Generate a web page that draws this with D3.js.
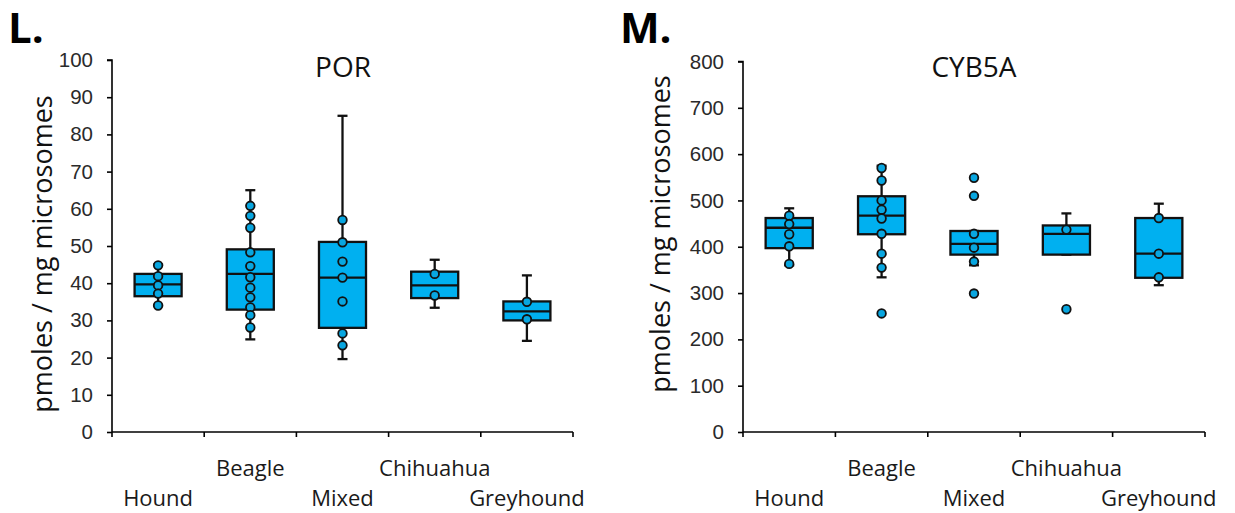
<!DOCTYPE html>
<html lang="en">
<head>
<meta charset="UTF-8">
<title>POR and CYB5A</title>
<script src="https://d3js.org/d3.v7.min.js"></script>
<style>
    body { margin: 0; background: #ffffff; }
    svg { display: block; font-family: 'Open Sans', sans-serif; }
    .tick-label { font-size: 20.5px; fill: #2a2a2a; }
    .cat-label { font-size: 22px; fill: #1a1a1a; }
    .title { font-size: 28px; fill: #111; }
    .ylab { font-size: 27px; fill: #111; }
    .panel { font-size: 42px; font-weight: bold; fill: #000; }
</style>
</head>
<body>
<svg id="chart" width="1235" height="513"></svg>
<script>
// categories
const breeds = ["Hound", "Beagle", "Mixed", "Chihuahua", "Greyhound"];

// POR (pmoles / mg microsomes)
const porLow  = [34.0, 24.9, 19.6, 33.4, 24.5];
const porQ1   = [36.5, 32.9, 28.0, 36.0, 30.0];
const porMed  = [39.7, 42.5, 41.5, 39.4, 32.4];
const porQ3   = [42.5, 49.1, 51.1, 43.1, 35.1];
const porHigh = [45.0, 65.0, 85.0, 46.3, 42.1];
const porPoints = [
    [44.8, 41.9, 39.4, 37.2, 34.0],
    [60.8, 58.1, 54.9, 48.3, 44.6, 41.6, 38.8, 36.2, 33.5, 31.4, 28.1],
    [57.0, 51.0, 45.8, 41.5, 35.1, 26.5, 23.3],
    [42.5, 36.7],
    [35.0, 30.3]
];
const porTicks = [0, 10, 20, 30, 40, 50, 60, 70, 80, 90, 100];

// CYB5A (pmoles / mg microsomes)
const cybLow  = [360, 334, 360, 383, 317];
const cybQ1   = [397, 427, 383, 383, 333];
const cybMed  = [441, 467, 406, 428, 385];
const cybQ3   = [462, 509, 434, 446, 462];
const cybHigh = [483, 575, 434, 472, 493];
const cybPoints = [
    [467, 449, 427, 401, 363],
    [570, 543, 500, 480, 461, 428, 385, 355, 256],
    [549, 510, 428, 398, 368, 299],
    [437, 265],
    [462, 385, 334]
];
const cybTicks = [0, 100, 200, 300, 400, 500, 600, 700, 800];

const svg = d3.select("#chart");
const boxColor = "#00b0f0";

function drawPanel(opt) {
    const x = d3.scaleBand().domain(breeds).range([opt.x0, opt.x1]);
    const y = d3.scaleLinear().domain([0, d3.max(opt.ticks)]).range([opt.yBottom, opt.yTop]);
    const g = svg.append("g");

    // y axis
    const yAxis = g.append("g")
        .attr("transform", `translate(${opt.x0},0)`)
        .call(d3.axisLeft(y).tickValues(opt.ticks).tickSize(5).tickPadding(14));
    yAxis.select(".domain").attr("stroke", "#000").attr("stroke-width", 1.6)
        .attr("d", `M-5,${y(d3.max(opt.ticks))}H0V${opt.yBottom}`);
    yAxis.selectAll(".tick line").attr("stroke", "#000").attr("stroke-width", 1.6);
    yAxis.selectAll(".tick text").attr("class", "tick-label").attr("font-size", null)
        .attr("font-family", null);

    // x axis: ticks on category boundaries
    const xAxis = g.append("g").attr("transform", `translate(0,${opt.yBottom})`);
    xAxis.append("line")
        .attr("x1", opt.x0).attr("x2", opt.x1)
        .attr("stroke", "#000").attr("stroke-width", 1.6);
    const bounds = breeds.map(b => x(b)).concat([opt.x1]);
    xAxis.selectAll(".xtick").data(bounds).enter().append("line")
        .attr("x1", d => d).attr("x2", d => d)
        .attr("y1", 0).attr("y2", 5)
        .attr("stroke", "#000").attr("stroke-width", 1.6);
    xAxis.selectAll(".cat-label").data(breeds).enter().append("text")
        .attr("class", "cat-label")
        .attr("text-anchor", "middle")
        .attr("x", d => x(d) + x.bandwidth() / 2)
        .attr("y", (d, i) => i % 2 === 0 ? 74 : 44)
        .text(d => d);

    const bw = x.bandwidth() * 0.51;
    const capW = 10;

    breeds.forEach((b, i) => {
        const cx = x(b) + x.bandwidth() / 2;
        const bg = g.append("g");
        // whisker
        bg.append("line")
            .attr("x1", cx).attr("x2", cx)
            .attr("y1", y(opt.low[i])).attr("y2", y(opt.high[i]))
            .attr("stroke", "#111").attr("stroke-width", 2.3);
        [opt.low[i], opt.high[i]].forEach(v => {
            bg.append("line")
                .attr("x1", cx - capW / 2).attr("x2", cx + capW / 2)
                .attr("y1", y(v)).attr("y2", y(v))
                .attr("stroke", "#111").attr("stroke-width", 2.3);
        });
        // box
        bg.append("rect")
            .attr("x", cx - bw / 2).attr("width", bw)
            .attr("y", y(opt.q3[i])).attr("height", y(opt.q1[i]) - y(opt.q3[i]))
            .attr("fill", boxColor).attr("stroke", "#111").attr("stroke-width", 2.3);
        bg.append("line")
            .attr("x1", cx - bw / 2).attr("x2", cx + bw / 2)
            .attr("y1", y(opt.med[i])).attr("y2", y(opt.med[i]))
            .attr("stroke", "#111").attr("stroke-width", 2.3);
        // points
        bg.selectAll("circle").data(opt.points[i]).enter().append("circle")
            .attr("cx", cx).attr("cy", d => y(d))
            .attr("r", 4.3)
            .attr("fill", "#08a6e0").attr("stroke", "#111").attr("stroke-width", 1.8);
    });

    // title
    g.append("text").attr("class", "title")
        .attr("text-anchor", "middle")
        .attr("x", opt.titleX).attr("y", 77)
        .text(opt.title);

    // y label
    g.append("text").attr("class", "ylab")
        .attr("text-anchor", "middle")
        .attr("transform", `translate(${opt.ylabX},${opt.ylabY}) rotate(-90)`)
        .text("pmoles / mg microsomes");

    // panel letter
    g.append("text").attr("class", "panel")
        .attr("x", opt.letterX).attr("y", 43)
        .text(opt.letter);
}

drawPanel({
    x0: 112, x1: 573, yBottom: 432, yTop: 60,
    ticks: porTicks,
    low: porLow, q1: porQ1, med: porMed, q3: porQ3, high: porHigh, points: porPoints,
    title: "POR", titleX: 343,
    ylabX: 52, ylabY: 254,
    letter: "L.", letterX: 8
});

drawPanel({
    x0: 743, x1: 1205, yBottom: 432, yTop: 61.5,
    ticks: cybTicks,
    low: cybLow, q1: cybQ1, med: cybMed, q3: cybQ3, high: cybHigh, points: cybPoints,
    title: "CYB5A", titleX: 974,
    ylabX: 670, ylabY: 234,
    letter: "M.", letterX: 620
});
</script>
</body>
</html>
